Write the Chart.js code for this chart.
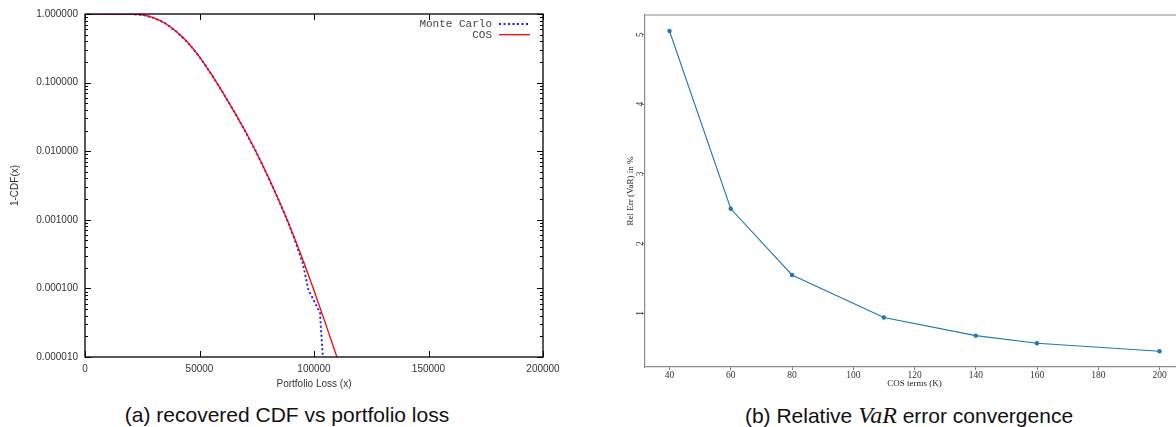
<!DOCTYPE html>
<html>
<head>
<meta charset="utf-8">
<script src="https://cdn.jsdelivr.net/npm/chart.js@4/dist/chart.umd.min.js"></script>
<style>
  html, body { margin: 0; padding: 0; background: #fff; }
  body { width: 1176px; height: 427px; overflow: hidden; position: relative; }
  .panel { position: absolute; top: 0; }
  .caption { position: absolute; top: 403px; font-family: "Liberation Sans", Arial, sans-serif;
             font-size: 21px; line-height: 24px; color: #111; white-space: nowrap; transform: translateX(-50%); }
  .math { font-family: "Liberation Serif", serif; font-style: italic; font-size: 24px; }
</style>
</head>
<body>
<div class="panel" style="left:0px"><canvas id="cdf" width="580" height="395"></canvas></div>
<div class="panel" style="left:590px"><canvas id="conv" width="610" height="395"></canvas></div>
<div class="caption" style="left:287px">(a) recovered CDF vs portfolio loss</div>
<div class="caption" style="left:909px">(b) Relative <span class="math">VaR</span> error convergence</div>

<script>
// ---- (a) tail probability 1-CDF(x) against portfolio loss ----
const seriesNames = ['Monte Carlo', 'COS'];

const cosLoss = [0, 10000, 15000, 20000, 25000, 30000, 35000, 40000, 45000, 50000, 55000, 60000,
                 65000, 70000, 75000, 80000, 85000, 90000, 95000, 100000, 105000, 110000, 112000];
const cosTail = [1.0, 1.0, 0.9998, 0.99885, 0.9716, 0.8810, 0.7328, 0.5495, 0.3802, 0.2371,
                 0.1349, 0.07328, 0.03846, 0.01950, 0.009333, 0.004217, 0.001799, 0.0007244,
                 0.0002692, 0.0000933, 0.0000309, 0.0000100, 0.0000063];

const mcLoss = [0, 10000, 15000, 20000, 25000, 30000, 35000, 40000, 45000, 50000, 55000, 60000,
                65000, 70000, 75000, 80000, 85000, 88000, 90700, 93000, 95070, 97510, 99690,
                102620, 103060, 103800, 104000];
const mcTail = [1.0, 1.0, 0.9998, 0.99885, 0.9716, 0.8810, 0.7328, 0.5495, 0.3802, 0.2371,
                0.1349, 0.07328, 0.03846, 0.01950, 0.009333, 0.004217, 0.001799, 0.001042,
                0.000617, 0.000372, 0.000234, 0.0000962, 0.0000687, 0.000044, 0.0000251,
                0.0000109, 0.000008];

const lossTicks = [0, 50000, 100000, 150000, 200000];
const tailTicks = [0.00001, 0.0001, 0.001, 0.01, 0.1, 1];

// ---- (b) relative VaR error against number of COS terms ----
const cosTerms = [40, 60, 80, 110, 140, 160, 200];
const relErr = [5.05, 2.50, 1.55, 0.94, 0.68, 0.57, 0.455];
const termTicks = [40, 60, 80, 100, 120, 140, 160, 180, 200];
const errTicks = [1, 2, 3, 4, 5];

const zip = (xs, ys) => xs.map((x, i) => ({ x, y: ys[i] }));
const setTicks = vals => scale => { scale.ticks = vals.map(v => ({ value: v })); };

// gnuplot-like frame: black border with inward ticks mirrored on all sides, plus key
const gnuplotFrame = {
  id: 'gnuplotFrame',
  afterDatasetsDraw(chart) {
    const { ctx, chartArea: a, scales: { x, y } } = chart;
    ctx.save();
    ctx.strokeStyle = '#000';
    ctx.lineWidth = 1;
    ctx.beginPath();
    lossTicks.forEach(v => {
      const px = Math.round(x.getPixelForValue(v)) + 0.5;
      ctx.moveTo(px, a.bottom); ctx.lineTo(px, a.bottom - 6);
      ctx.moveTo(px, a.top); ctx.lineTo(px, a.top + 6);
    });
    for (let d = -5; d <= 0; d++) {
      for (let m = 1; m <= 9; m++) {
        const v = m * Math.pow(10, d);
        if (v > 1.0000001) break;
        const py = Math.round(y.getPixelForValue(v)) + 0.5;
        const len = m === 1 ? 6 : 3;
        ctx.moveTo(a.left, py); ctx.lineTo(a.left + len, py);
        ctx.moveTo(a.right, py); ctx.lineTo(a.right - len, py);
      }
    }
    ctx.stroke();
    ctx.lineWidth = 1.3;
    ctx.strokeRect(a.left, a.top, a.right - a.left, a.bottom - a.top);

    // key, top right inside the frame
    ctx.font = "11px 'Liberation Mono', monospace";
    ctx.fillStyle = '#444';
    ctx.textAlign = 'right';
    ctx.textBaseline = 'middle';
    const rows = [
      { name: seriesNames[0], color: '#1a1aff', dash: [2, 2.5], width: 1.9 },
      { name: seriesNames[1], color: '#ff0000', dash: [], width: 1.3 }
    ];
    rows.forEach((r, i) => {
      const ky = a.top + 10 + i * 10.7;
      ctx.fillText(r.name, a.right - 51, ky);
      ctx.beginPath();
      ctx.setLineDash(r.dash);
      ctx.strokeStyle = r.color;
      ctx.lineWidth = r.width;
      ctx.moveTo(a.right - 44, ky); ctx.lineTo(a.right - 13, ky);
      ctx.stroke();
    });
    ctx.restore();
  }
};

new Chart(document.getElementById('cdf'), {
  type: 'line',
  data: {
    datasets: [
      { label: seriesNames[0], data: zip(mcLoss, mcTail), borderColor: '#1a1aff', borderWidth: 1.9,
        borderDash: [2, 2.5], pointRadius: 0, tension: 0, order: 2 },
      { label: seriesNames[1], data: zip(cosLoss, cosTail), borderColor: '#ff0000', borderWidth: 1.3,
        pointRadius: 0, cubicInterpolationMode: 'monotone', order: 1 }
    ]
  },
  options: {
    responsive: false, animation: false, devicePixelRatio: 1,
    layout: { padding: { left: 0, top: 14, right: 37, bottom: 0 } },
    plugins: { legend: { display: false }, tooltip: { enabled: false } },
    scales: {
      x: {
        type: 'linear', min: 0, max: 200000,
        afterBuildTicks: setTicks(lossTicks),
        afterFit: s => { s.height = 38; },
        grid: { display: false, drawTicks: false }, border: { display: false },
        ticks: { callback: v => String(v), font: { family: "'Liberation Sans', Arial", size: 10 },
                 color: '#333', padding: 6, maxRotation: 0, autoSkip: false },
        title: { display: true, text: 'Portfolio Loss (x)', color: '#333',
                 font: { family: "'Liberation Sans', Arial", size: 10 }, padding: { top: 0, bottom: 5 } }
      },
      y: {
        type: 'logarithmic', min: 0.00001, max: 1,
        afterBuildTicks: setTicks(tailTicks),
        afterFit: s => { s.width = 85; },
        grid: { display: false, drawTicks: false }, border: { display: false },
        ticks: { callback: v => Number(v).toFixed(6), font: { family: "'Liberation Sans', Arial", size: 10 },
                 color: '#333', padding: 7, autoSkip: false },
        title: { display: true, text: '1-CDF(x)', color: '#333',
                 font: { family: "'Liberation Sans', Arial", size: 10 }, padding: { top: 9, bottom: 0 } }
      }
    }
  },
  plugins: [gnuplotFrame]
});

// matplotlib-like top spine for the convergence panel
const topSpine = {
  id: 'topSpine',
  afterDraw(chart) {
    const { ctx, chartArea: a } = chart;
    ctx.save();
    ctx.strokeStyle = '#8a8a8a';
    ctx.lineWidth = 1.2;
    ctx.beginPath();
    ctx.moveTo(a.left, a.top); ctx.lineTo(a.right, a.top);
    ctx.stroke();
    ctx.restore();
  }
};

const serif = "'Liberation Serif', 'Times New Roman', serif";
new Chart(document.getElementById('conv'), {
  type: 'line',
  data: {
    datasets: [{
      data: zip(cosTerms, relErr), borderColor: '#1f77b4', borderWidth: 1.1,
      pointRadius: 2.2, pointBackgroundColor: '#1f77b4', pointBorderWidth: 0, tension: 0
    }]
  },
  options: {
    responsive: false, animation: false, devicePixelRatio: 1,
    layout: { padding: { left: 0, top: 15, right: 16, bottom: 0 } },
    plugins: { legend: { display: false }, tooltip: { enabled: false } },
    scales: {
      x: {
        type: 'linear', min: 32, max: 208,
        afterBuildTicks: setTicks(termTicks),
        afterFit: s => { s.height = 28; },
        grid: { drawOnChartArea: false, drawTicks: true, tickLength: 3, tickColor: '#777', tickWidth: 1 },
        border: { color: '#8a8a8a', width: 1.2 },
        ticks: { font: { family: serif, size: 9.5, lineHeight: 1 }, color: '#333', padding: 1,
                 maxRotation: 0, autoSkip: false },
        title: { display: true, text: 'COS terms (K)', color: '#222',
                 font: { family: serif, size: 9 }, padding: { top: 0, bottom: 6 } }
      },
      y: {
        type: 'linear', min: 0.23, max: 5.28,
        afterBuildTicks: setTicks(errTicks),
        afterFit: s => { s.width = 55; },
        grid: { drawOnChartArea: false, drawTicks: true, tickLength: 3, tickColor: '#777', tickWidth: 1 },
        border: { color: '#8a8a8a', width: 1.2 },
        ticks: { font: { family: serif, size: 9.5 }, color: '#333', padding: -1,
                 minRotation: 90, maxRotation: 90, crossAlign: 'center', autoSkip: false },
        title: { display: true, text: 'Rel Err (VaR) in %', color: '#222',
                 font: { family: serif, size: 9 }, padding: { top: 35, bottom: 0 } }
      }
    }
  },
  plugins: [topSpine]
});
</script>
</body>
</html>
